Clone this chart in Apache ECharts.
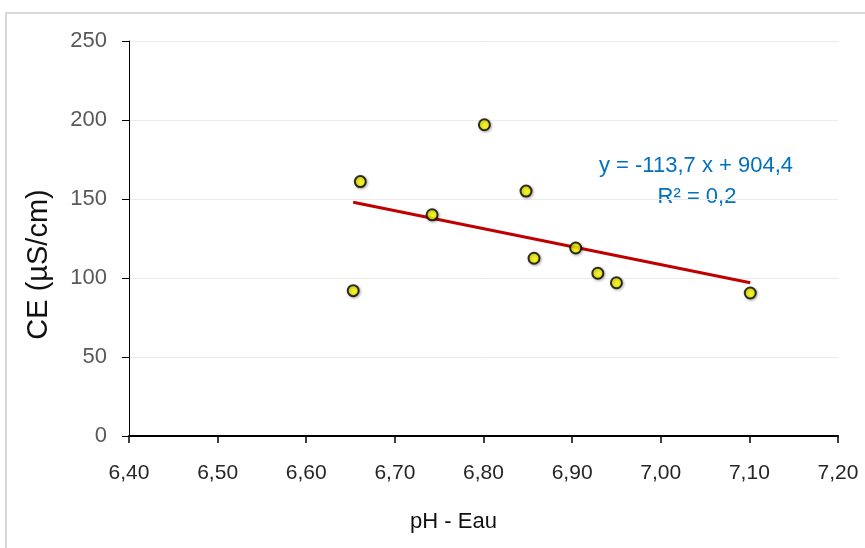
<!DOCTYPE html>
<html>
<head>
<meta charset="utf-8">
<script src="https://cdn.jsdelivr.net/npm/echarts@6/dist/echarts.min.js"></script>
<style>
html,body{margin:0;padding:0;background:#fff;}
#chart{width:865px;height:548px;}
</style>
</head>
<body>
<div id="chart"></div>
<script>
// Data
const phValues = [6.653, 6.661, 6.742, 6.801, 6.848, 6.857, 6.904, 6.929, 6.950, 7.101];
const ceValues = [92, 161, 140, 197, 155, 112.5, 119, 103, 97, 90.5];
const xTicks = [6.4, 6.5, 6.6, 6.7, 6.8, 6.9, 7.0, 7.1, 7.2];
const yTicks = [0, 50, 100, 150, 200, 250];
const trendSlope = -113.7;
const trendIntercept = 904.4;
const equationText = 'y = -113,7 x + 904,4';
const r2Text = 'R² = 0,2';

const points = phValues.map((x, i) => [x, ceValues[i]]);
const xMinData = Math.min(...phValues);
const xMaxData = Math.max(...phValues);
const trendPoints = [xMinData, xMaxData].map(x => [x, trendSlope * x + trendIntercept]);

const chart = echarts.init(document.getElementById('chart'), null, {renderer: 'canvas'});
const FONT = '"Liberation Sans", Arial, sans-serif';

chart.setOption({
  animation: false,
  backgroundColor: '#ffffff',
  grid: {left: 129, right: 27, top: 41, bottom: 112, containLabel: false},
  xAxis: {
    type: 'value',
    min: xTicks[0],
    max: xTicks[xTicks.length - 1],
    interval: 0.1,
    name: 'pH - Eau',
    nameLocation: 'middle',
    nameGap: 75,
    nameTextStyle: {fontFamily: FONT, fontSize: 22, color: '#111', padding: [0, 60, 0, 0]},
    axisLine: {show: true, onZero: false, lineStyle: {color: '#000', width: 2}},
    axisTick: {show: true, length: 7, lineStyle: {color: '#000', width: 1.5}},
    axisLabel: {
      margin: 27, fontFamily: FONT, fontSize: 21, color: '#262626',
      formatter: v => v.toFixed(2).replace('.', ',')
    },
    splitLine: {show: false}
  },
  yAxis: {
    type: 'value',
    min: yTicks[0],
    max: yTicks[yTicks.length - 1],
    interval: 50,
    name: 'CE (µS/cm)',
    nameLocation: 'middle',
    nameGap: 76,
    nameTextStyle: {fontFamily: FONT, fontSize: 29, color: '#111', padding: [0, 52, 0, 0]},
    axisLine: {show: true, onZero: false, lineStyle: {color: '#000', width: 1}},
    axisTick: {show: true, inside: false, length: 7, lineStyle: {color: '#000', width: 1}},
    axisLabel: {margin: 22, fontFamily: FONT, fontSize: 22, color: '#595959'},
    splitLine: {show: true, lineStyle: {color: '#EBEBEB', width: 1}}
  },
  series: [
    {
      type: 'line',
      data: trendPoints,
      showSymbol: false,
      symbol: 'none',
      lineStyle: {color: '#C00000', width: 3},
      z: 2,
      silent: true
    },
    {
      type: 'scatter',
      data: points,
      symbol: 'circle',
      symbolSize: 11,
      itemStyle: {
        color: '#FFFF00', borderColor: '#000', borderWidth: 2,
        shadowColor: 'rgba(0,0,0,0.35)', shadowBlur: 3, shadowOffsetX: 1, shadowOffsetY: 1
      },
      z: 3
    }
  ],
  graphic: [
    {
      type: 'rect', silent: true, z: -1,
      shape: {x: 6, y: 13, width: 900, height: 600},
      style: {fill: 'none', stroke: '#D9D9D9', lineWidth: 2}
    },
    {
      type: 'text', silent: true,
      x: 696, y: 166,
      style: {text: equationText, fontFamily: FONT, fontSize: 22, fill: '#0070C0', align: 'center', verticalAlign: 'middle'}
    },
    {
      type: 'text', silent: true,
      x: 697, y: 197,
      style: {text: r2Text, fontFamily: FONT, fontSize: 22, fill: '#0070C0', align: 'center', verticalAlign: 'middle'}
    }
  ]
});
</script>
</body>
</html>
